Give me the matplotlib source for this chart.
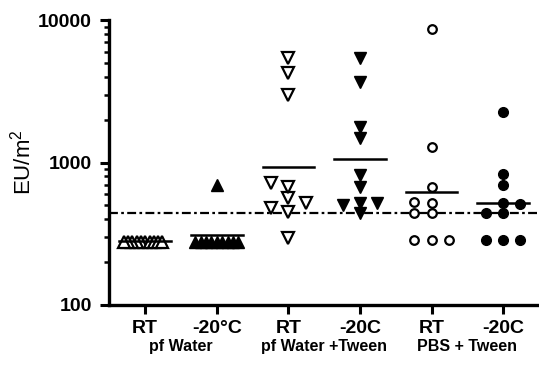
"""Endotoxin per m2 by storage condition, GraphPad-style column scatter."""

import matplotlib

matplotlib.use("Agg")
import matplotlib.pyplot as plt
import numpy as np
from matplotlib.ticker import FixedLocator, LogLocator, NullFormatter

plt.rcParams["font.family"] = ["Liberation Sans", "DejaVu Sans"]

# values (EU/m2)
conditions = ["RT", "-20°C", "RT", "-20C", "RT", "-20C"]
treatments = ["pf Water", "pf Water +Tween", "PBS + Tween"]
pf_water_rt = [278, 278, 278, 278, 278, 278, 278, 278, 278, 278]
pf_water_m20 = [278, 278, 278, 278, 278, 278, 278, 278, 278, 695]
tween_rt = [294, 452, 477, 517, 561, 676, 714, 2975, 4270, 5390]
tween_m20 = [445, 503, 517, 517, 676, 817, 1478, 1783, 3690, 5390]
pbs_rt = [286, 286, 286, 440, 445, 521, 531, 676, 1291, 8600]
pbs_m20 = [286, 286, 286, 445, 445, 511, 521, 695, 830, 2274]
group_means = [280, 312, 935, 1052, 624, 521]
detection_limit = 445

groups = [pf_water_rt, pf_water_m20, tween_rt, tween_m20, pbs_rt, pbs_m20]
markers = [
    dict(marker="^", ms=8.0, mfc="white", mec="black", mew=1.6),
    dict(marker="^", ms=8.8, mfc="black", mec="black", mew=1.0),
    dict(marker="v", ms=8.0, mfc="white", mec="black", mew=1.6),
    dict(marker="v", ms=8.8, mfc="black", mec="black", mew=1.0),
    dict(marker="o", ms=6.2, mfc="white", mec="black", mew=1.6),
    dict(marker="o", ms=7.0, mfc="black", mec="black", mew=1.0),
]


def swarm_offsets(ax, x0, values, step=0.24, min_dist=9.0, max_half=0.3):
    """Greedy beeswarm placement in display pixels, squeezed if too wide."""
    ys = ax.transData.transform([(x0, v) for v in values])[:, 1]
    px_unit = ax.transData.transform((1, 1))[0] - ax.transData.transform((0, 1))[0]
    candidates = [0]
    for k in range(1, 12):
        candidates += [-k, k]
    placed, slots = [], []
    for y in ys:
        for k in candidates:
            x = k * step * px_unit
            if all(np.hypot(x - px, y - py) >= min_dist for px, py in placed):
                break
        placed.append((x, y))
        slots.append(k)
    kmax = max(abs(k) for k in slots)
    s = step if kmax * step <= max_half else max_half / kmax
    return np.array(slots) * s


fig = plt.figure(figsize=(5.39, 3.66), dpi=100)
ax = fig.add_axes([0.203, 0.1667, 0.797, 0.7783])
ax.set_yscale("log")
ax.set_xlim(-0.5, 5.5)
ax.set_ylim(100, 10000)

for i, (values, style) in enumerate(zip(groups, markers)):
    offsets = swarm_offsets(ax, i, values)
    ax.plot(i + offsets, values, linestyle="none", zorder=3, clip_on=False, **style)
    ax.plot([i - 0.36, i + 0.36], [group_means[i]] * 2, color="black", lw=1.8, zorder=4)

ax.axhline(detection_limit, color="black", lw=1.6,
           linestyle=(0, (4, 1.5, 1.2, 1.5)), zorder=2)

for side in ("top", "right"):
    ax.spines[side].set_visible(False)
for side in ("left", "bottom"):
    ax.spines[side].set_linewidth(2.4)

ax.yaxis.set_major_locator(FixedLocator([100, 1000, 10000]))
ax.yaxis.set_minor_locator(LogLocator(base=10, subs=np.arange(2, 10)))
ax.yaxis.set_minor_formatter(NullFormatter())
ax.set_yticklabels(["100", "1000", "10000"], fontsize=14, fontweight="bold")
ax.tick_params(axis="y", which="major", length=6.5, width=2.2, pad=6)
ax.tick_params(axis="y", which="minor", length=3.8, width=1.8)

ax.set_xticks(range(len(conditions)))
ax.set_xticklabels(conditions, fontsize=14, fontweight="bold")
ax.tick_params(axis="x", length=6.5, width=2.2, pad=4)

ax.set_ylabel(r"EU/m$^\mathregular{2}$", fontsize=16, labelpad=2)

for j, name in enumerate(treatments):
    ax.text(2 * j + 0.5, -0.147, name, transform=ax.get_xaxis_transform(),
            ha="center", va="center", fontsize=11.5, fontweight="bold")

fig.savefig("out.png", dpi=100)
